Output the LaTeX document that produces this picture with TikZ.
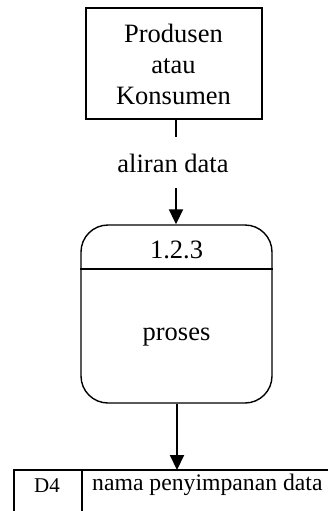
\documentclass[tikz,border=0pt]{standalone}
\usepackage{fontspec}
\setmainfont{Liberation Serif}
\usetikzlibrary{arrows.meta}
\begin{document}
\begin{tikzpicture}[x=1pt,y=-1pt,
  boxline/.style={line width=1.4pt},
  flowline/.style={line width=2pt},
  flowarrow/.style={line width=2pt,-{Triangle[length=15pt,width=14pt]}},
  txt/.style={font=\fontsize{26.5}{30}\selectfont,inner sep=0pt,anchor=base},
  smalltxt/.style={font=\fontsize{23.7}{28}\selectfont,inner sep=0pt,anchor=base}]
\useasboundingbox (0,0) rectangle (328,511);
% external entity
\node[boxline,draw,rectangle,minimum width=176pt,minimum height=111pt,inner sep=0pt] (ext) at (174,63.5) {};
\node[txt] (l1) at (173.5,43) {Produsen};
\node[txt] (l2) at (173.5,74) {atau};
\node[txt] (l3) at (173.5,104) {Konsumen};
% flow label
\coordinate (f1) at (176,137);
\coordinate (f2) at (176,188);
\node[txt] (flow) at (173,172) {aliran data};
% process
\node[boxline,draw,rectangle,rounded corners=27pt,minimum width=191pt,minimum height=178pt,inner sep=0pt] (proc) at (176.5,314) {};
\coordinate (dl) at (81,269);
\coordinate (dr) at (272,269);
\draw[boxline] (dl -| proc.west) -- (dr -| proc.east);
\node[txt] (pid) at (176.5,258) {1.2.3};
\node[txt] (pname) at (176.5,340) {proses};
% connectors
\draw[flowline] (ext.south -| f1) -- (f1);
\draw[flowarrow] (f2) -- (proc.north -| f2);
% data store
\coordinate (sl) at (14,470);
\coordinate (sr) at (328,470);
\coordinate (sbl) at (14,511);
\coordinate (dt) at (82,470);
\coordinate (db) at (82,511);
\draw[boxline] (sbl) -- (sl) -- (sr);
\draw[boxline] (dt) -- (db);
\node[font=\fontsize{21}{24}\selectfont,inner sep=0pt,anchor=base] (sid) at (47,492) {D4};
\node[smalltxt,anchor=base west] (sname) at (92,490) {nama penyimpanan data};
\coordinate (st) at (177,470);
\draw[flowarrow] (proc.south -| st) -- (st);
\end{tikzpicture}
\end{document}
